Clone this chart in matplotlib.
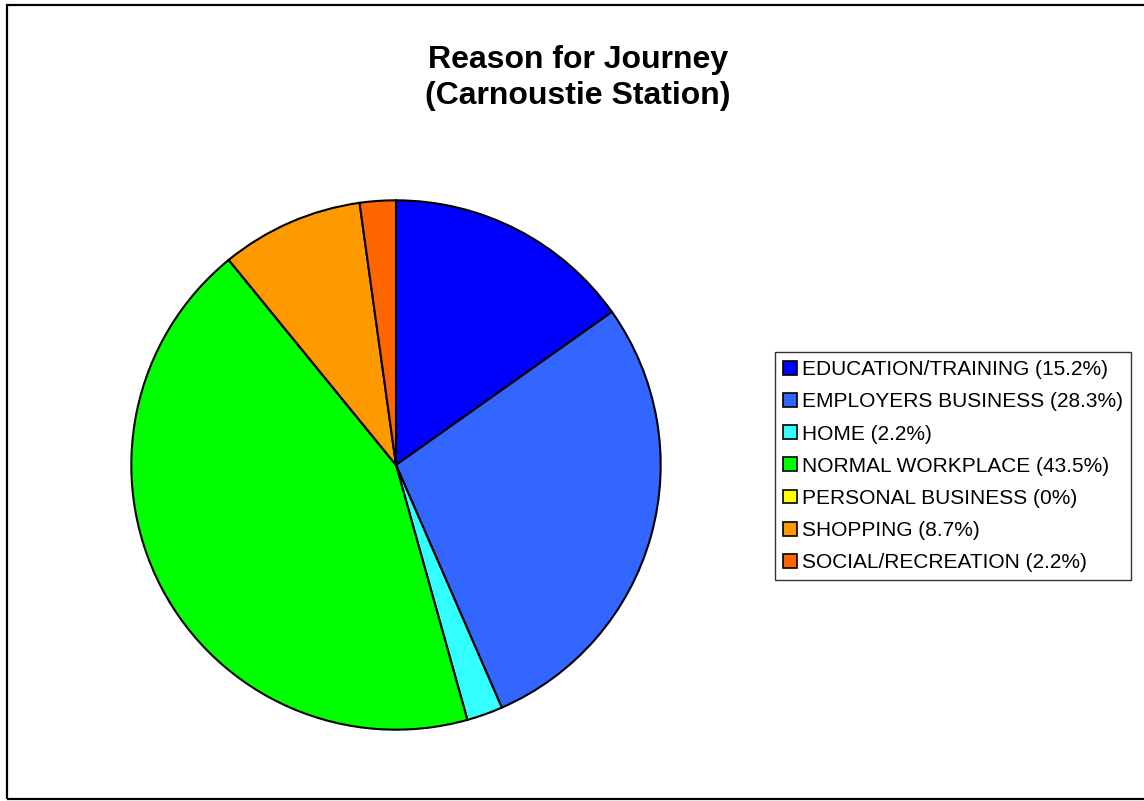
"""Pie chart of journey purposes at Carnoustie Station."""

import matplotlib

matplotlib.use("Agg")
import matplotlib.pyplot as plt
from matplotlib.patches import Patch, Rectangle

reasons = [
    "EDUCATION/TRAINING",
    "EMPLOYERS BUSINESS",
    "HOME",
    "NORMAL WORKPLACE",
    "PERSONAL BUSINESS",
    "SHOPPING",
    "SOCIAL/RECREATION",
]
shares = [15.2, 28.3, 2.2, 43.5, 0.0, 8.7, 2.2]
share_labels = ["15.2%", "28.3%", "2.2%", "43.5%", "0%", "8.7%", "2.2%"]
colours = ["#0000FF", "#3366FF", "#33FFFF", "#00FF00", "#FFFF00", "#FF9900", "#FF6600"]

plt.rcParams["font.family"] = ["Liberation Sans", "DejaVu Sans"]

fig = plt.figure(figsize=(11.44, 8.01), dpi=100)
fig.patch.set_facecolor("white")

# outer frame of the chart area
fig.patches.append(
    Rectangle((7 / 1144, 2 / 801), 1.2, 1 - 7 / 801, transform=fig.transFigure,
              fill=False, edgecolor="black", linewidth=1.6)
)

ax = fig.add_axes([130 / 1144, 70 / 801, 532 / 1144, 532 / 801])
ax.pie(
    shares,
    colors=colours,
    startangle=90,
    counterclock=False,
    wedgeprops={"edgecolor": "black", "linewidth": 1.5},
)
ax.set_xlim(-1.005, 1.005)
ax.set_ylim(-1.005, 1.005)
ax.set_aspect("equal")

fig.text(0.505, 1 - 78 / 801, "Reason for Journey\n(Carnoustie Station)",
         ha="center", va="center", fontsize=23, fontweight="bold", linespacing=1.3)

handles = [Patch(facecolor=c, edgecolor="black", linewidth=1.2) for c in colours]
labels = [f"{r} ({p})" for r, p in zip(reasons, share_labels)]
leg = fig.legend(
    handles,
    labels,
    loc="upper left",
    bbox_to_anchor=(775 / 1144, 1 - 352 / 801),
    fontsize=15,
    frameon=True,
    fancybox=False,
    edgecolor="black",
    handlelength=0.65,
    handleheight=0.65,
    handletextpad=0.25,
    borderpad=0.4,
    borderaxespad=0,
    labelspacing=0.63,
)
leg.get_frame().set_linewidth(1.0)

fig.savefig("out.png", dpi=100, facecolor="white")
